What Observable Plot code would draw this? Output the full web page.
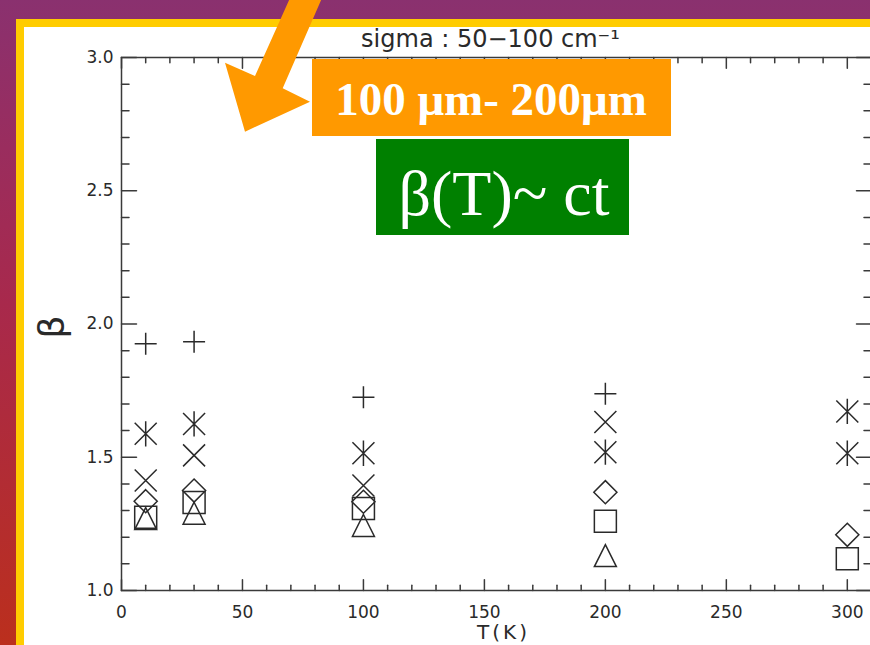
<!DOCTYPE html>
<html><head><meta charset="utf-8">
<script src="https://cdn.jsdelivr.net/npm/d3@7"></script>
<script src="https://cdn.jsdelivr.net/npm/@observablehq/plot@0.6"></script>
<style>
html,body{margin:0;padding:0;}
body{width:870px;height:645px;overflow:hidden;position:relative;
 background:linear-gradient(to bottom,#8a316f 0%,#9a2d5e 23%,#a8294c 47%,#bb2f1d 100%);}
#yellow{position:absolute;left:16px;top:19px;width:900px;height:700px;background:#ffcc00}
#white{position:absolute;left:24px;top:27px;width:900px;height:700px;background:#fff}
#chart{position:absolute;left:0;top:0}
#overlay{position:absolute;left:0;top:0;pointer-events:none}
</style></head>
<body>
<div id="yellow"></div><div id="white"></div>
<div id="chart"></div>
<svg id="overlay" width="870" height="645"></svg>
<script>
// ---- data (beta vs temperature, 50-100 cm^-1) ----
const temps = [10, 30, 100, 200, 300];
const betaPlus     = [1.926, 1.933, 1.725, 1.738, null];
const betaAsterisk = [1.588, 1.625, 1.515, 1.519, 1.515];
const betaAsterisk2= [null,  null,  null,  null,  1.672];
const betaTimes    = [1.413, 1.507, 1.394, 1.632, null];
const betaDiamond  = [1.335, 1.375, 1.333, 1.369, 1.209];
const betaSquare   = [1.275, 1.330, 1.308, 1.260, 1.119];
const betaTriangle = [1.270, 1.290, 1.244, 1.131, null];

const xMajor = [0, 50, 100, 150, 200, 250, 300];
const xMinor = d3.range(10, 310, 10).filter(v => v % 50 !== 0);
const yMajor = [1.0, 1.5, 2.0, 2.5, 3.0];
const yMinor = d3.range(11, 30, 1).filter(v => v % 5 !== 0).map(v => v / 10);
const xTickLabels = ["0", "50", "100", "150", "200", "250", "300"];
const yTickLabels = ["1.0", "1.5", "2.0", "2.5", "3.0"];
const title = "sigma : 50\u2212100 cm\u207B\u00B9";
const xLabel = "T(K)";
const yLabel = "\u03B2";
const annotOrange = "100 \u03BCm- 200\u03BCm";
const annotGreen = "\u03B2(T)~ ct";

// ---- IDL-like symbols ----
function mk(fn){ return {draw(c, size){ const r = Math.sqrt(size / Math.PI); fn(c, r); }}; }
const symPlus = mk((c,r)=>{c.moveTo(-r,0);c.lineTo(r,0);c.moveTo(0,-r);c.lineTo(0,r);});
const symTimes = mk((c,r)=>{c.moveTo(-r,-r);c.lineTo(r,r);c.moveTo(-r,r);c.lineTo(r,-r);});
const symAst = mk((c,r)=>{const v=r*1.15;c.moveTo(0,-v);c.lineTo(0,v);c.moveTo(-r,-r);c.lineTo(r,r);c.moveTo(-r,r);c.lineTo(r,-r);});
const symDiamond = mk((c,r)=>{const q=r*1.05;c.moveTo(0,-q);c.lineTo(q,0);c.lineTo(0,q);c.lineTo(-q,0);c.closePath();});
const symSquare = mk((c,r)=>{c.rect(-r,-r,2*r,2*r);});
const symTriangle = mk((c,r)=>{c.moveTo(0,-r);c.lineTo(r,r);c.lineTo(-r,r);c.closePath();});
// straight tick shape for vectors
const tickShape = {draw(c, l){ c.moveTo(0, 0); c.lineTo(0, -l); }};

const series = [
  {values: betaPlus, symbol: symPlus},
  {values: betaAsterisk, symbol: symAst},
  {values: betaAsterisk2, symbol: symAst},
  {values: betaTimes, symbol: symTimes},
  {values: betaDiamond, symbol: symDiamond},
  {values: betaSquare, symbol: symSquare},
  {values: betaTriangle, symbol: symTriangle}
];
const ink = "#2a2a2a";
const axisInk = "#3a3a3a";

const dotMarks = series.map(s => Plot.dot(
  temps.map((t, i) => ({t, b: s.values[i]})).filter(d => d.b != null),
  {x: "t", y: "b", symbol: s.symbol, r: 11, stroke: ink, strokeWidth: 1.5, fill: "none"}
));

const tv = {shape: tickShape, anchor: "start", stroke: axisInk, strokeWidth: 1.5};
const xTicks = (vals, y, len, rot) => Plot.vector(vals, {...tv, x: d => d, y, length: len, rotate: rot});
const yTicks = (vals, x, len, rot) => Plot.vector(vals, {...tv, x, y: d => d, length: len, rotate: rot});

const plot = Plot.plot({
  width: 900, height: 645,
  marginLeft: 121, marginRight: 29, marginTop: 57, marginBottom: 55,
  style: {background: "transparent", maxWidth: "none", overflow: "visible", fontFamily: "DejaVu Sans", fontSize: "17px", color: ink},
  x: {domain: [0, 310], axis: null},
  y: {domain: [1, 3], axis: null},
  marks: [
    xTicks(xMajor, 1, 10.7, 0),
    xTicks(xMinor, 1, 5.3, 0),
    xTicks(xMajor, 3, 10.7, 180),
    xTicks(xMinor, 3, 5.3, 180),
    yTicks(yMajor, 0, 15, 90),
    yTicks(yMinor, 0, 7.5, 90),
    yTicks(yMajor, 310, 15, -90),
    yTicks(yMinor, 310, 7.5, -90),
    Plot.frame({stroke: axisInk, strokeWidth: 1.5}),
    Plot.text(xMajor, {x: d => d, y: 1, text: (d, i) => xTickLabels[i], dy: 22, fill: ink, fontSize: 17}),
    Plot.text(yMajor, {x: 0, y: d => d, text: (d, i) => yTickLabels[i], dx: -8, textAnchor: "end", fill: ink, fontSize: 17}),
    Plot.text([xLabel], {text: d => d, frameAnchor: "bottom", lineAnchor: "middle", dy: 42.5, dx: 7, fill: ink, fontSize: 20}),
    Plot.text([yLabel], {text: d => d, frameAnchor: "left", textAnchor: "middle", lineAnchor: "middle", dx: -69, dy: 3, rotate: -90, fill: ink, fontSize: 36, fontFamily: "DejaVu Sans"}),
    Plot.text([title], {text: d => d, frameAnchor: "top", lineAnchor: "middle", dy: -18, dx: -6, fill: ink, fontSize: 24}),
    ...dotMarks
  ]
});
document.getElementById("chart").appendChild(plot);
// widen the IDL-style axis title spacing
d3.select(plot).selectAll("text").filter(function(){ return this.textContent === xLabel; }).attr("letter-spacing", "3px");

// ---- slide annotations (arrow + boxes) ----
const ov = d3.select("#overlay");
ov.append("polygon")
  .attr("points", "290,-2 322,-2 282.7,88.3 310,101.7 245,131.7 225,62.7 255,76")
  .attr("fill", "#ff9900");
ov.append("rect").attr("x", 312).attr("y", 59).attr("width", 359).attr("height", 77).attr("fill", "#ff9900");
ov.append("text").attr("x", 491).attr("y", 115).attr("text-anchor", "middle")
  .attr("fill", "#fff").attr("font-family", "Liberation Serif, serif").attr("font-weight", "bold")
  .attr("font-size", 47).text(annotOrange);
ov.append("rect").attr("x", 376).attr("y", 139).attr("width", 253).attr("height", 96).attr("fill", "#008000");
ov.append("text").attr("x", 504).attr("y", 215).attr("text-anchor", "middle")
  .attr("fill", "#fff").attr("font-family", "Liberation Serif, serif")
  .attr("font-size", 64).text(annotGreen);
</script>
</body></html>
